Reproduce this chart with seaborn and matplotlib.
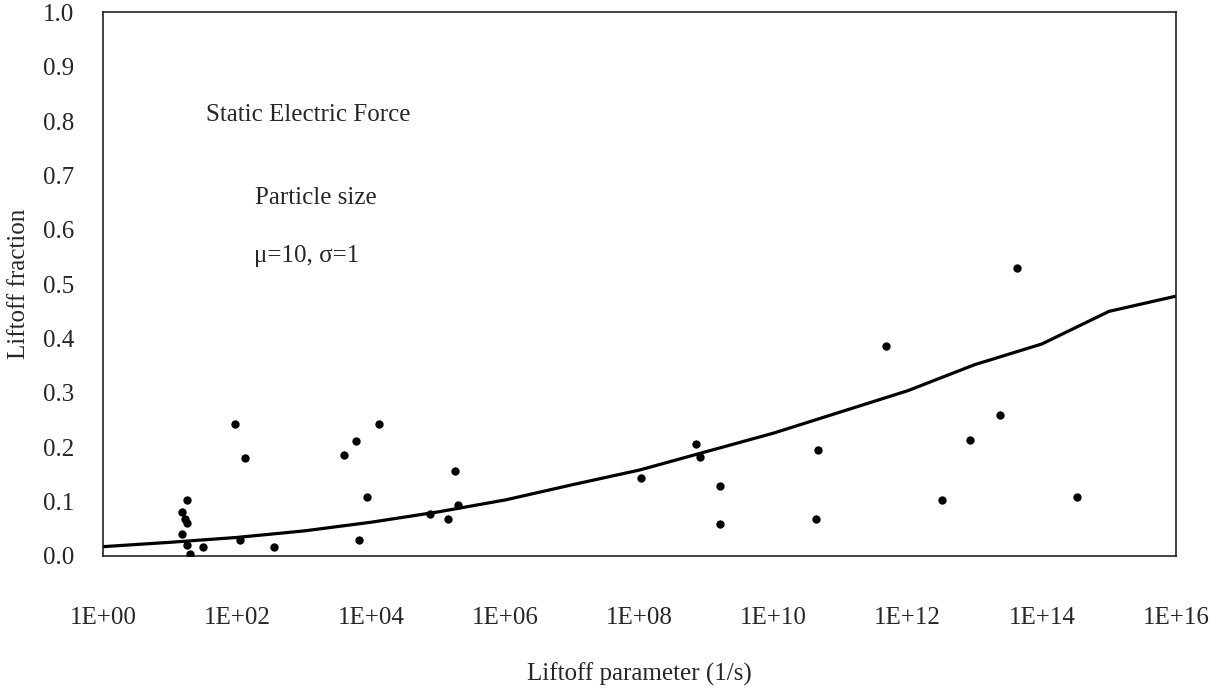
import numpy as np
import pandas as pd
import seaborn as sns
import matplotlib
matplotlib.use('Agg')
import matplotlib.pyplot as plt
from matplotlib.ticker import NullLocator

# scatter points (liftoff parameter, liftoff fraction)
point_x = [9.3e1, 1.3e2, 1.8e1, 1.5e1, 1.7e1, 1.8e1, 1.5e1, 1.8e1, 2.0e1, 3.1e1,
           1.1e2, 3.6e2, 3.9e3, 5.9e3, 1.3e4, 8.5e3, 6.6e3, 1.8e5, 7.6e4, 1.4e5,
           2.0e5, 6.9e8, 7.9e8, 1.05e8, 1.6e9, 1.6e9, 4.3e13, 4.7e11, 4.6e10, 4.3e10,
           2.4e13, 8.5e12, 3.2e12, 3.3e14]
point_y = [0.243, 0.181, 0.102, 0.081, 0.067, 0.060, 0.040, 0.020, 0.004, 0.017,
           0.029, 0.016, 0.186, 0.211, 0.242, 0.108, 0.030, 0.156, 0.078, 0.067,
           0.094, 0.206, 0.182, 0.144, 0.128, 0.058, 0.530, 0.386, 0.194, 0.067,
           0.259, 0.214, 0.102, 0.108]

# model curve
curve_x = [1e0, 1e1, 1e2, 1e3, 1e4, 1e5, 1e6, 1e7, 1e8, 1e9, 1e10, 1e11, 1e12,
           1e13, 1e14, 1e15, 1e16]
curve_y = [0.017, 0.025, 0.034, 0.046, 0.062, 0.081, 0.103, 0.131, 0.158, 0.192,
           0.226, 0.265, 0.304, 0.352, 0.390, 0.450, 0.478]

tick_vals = [1e0, 1e2, 1e4, 1e6, 1e8, 1e10, 1e12, 1e14, 1e16]
tick_labels = ['1E+00', '1E+02', '1E+04', '1E+06', '1E+08', '1E+10', '1E+12', '1E+14', '1E+16']

sns.set_style('white')
plt.rcParams['font.family'] = ['Liberation Serif', 'DejaVu Serif']

points = pd.DataFrame({'x': point_x, 'y': point_y})
curve = pd.DataFrame({'x': curve_x, 'y': curve_y})

fig = plt.figure(figsize=(12.23, 6.94), dpi=100)
ax = fig.add_axes([0.0842, 0.199, 0.8774, 0.783])

sns.lineplot(data=curve, x='x', y='y', color='black', linewidth=2.3, ax=ax)
sns.scatterplot(data=points, x='x', y='y', color='black', s=36, edgecolor='black',
                linewidth=0, ax=ax, zorder=3)

ax.set_xscale('log')
ax.set_xlim(1e0, 1e16)
ax.set_ylim(0, 1.0)
ax.set_xticks(tick_vals)
ax.set_xticklabels(tick_labels)
ax.xaxis.set_minor_locator(NullLocator())
ax.set_yticks(np.arange(0, 1.01, 0.1))
ax.set_yticklabels([f'{v:.1f}' for v in np.arange(0, 1.01, 0.1)])

ax.tick_params(axis='x', direction='in', length=6, width=1, pad=37, labelsize=18)
ax.tick_params(axis='y', direction='in', length=5, width=1, pad=21, labelsize=18)
for sp in ax.spines.values():
    sp.set_visible(True)
    sp.set_color('#222222')
    sp.set_linewidth(1.2)

ax.set_xlabel('Liftoff parameter (1/s)', fontsize=18)
ax.xaxis.set_label_coords(0.5, -0.197)
ax.set_ylabel('Liftoff fraction', fontsize=18)
ax.yaxis.set_label_coords(-0.068, 0.5)

ax.text(0.096, 0.812, 'Static Electric Force', transform=ax.transAxes, fontsize=18,
        va='center', ha='left')
ax.text(0.142, 0.658, 'Particle size', transform=ax.transAxes, fontsize=18,
        va='center', ha='left')
ax.text(0.141, 0.552, 'μ=10, σ=1', transform=ax.transAxes, fontsize=18,
        va='center', ha='left')

fig.savefig('out.png', dpi=100)
